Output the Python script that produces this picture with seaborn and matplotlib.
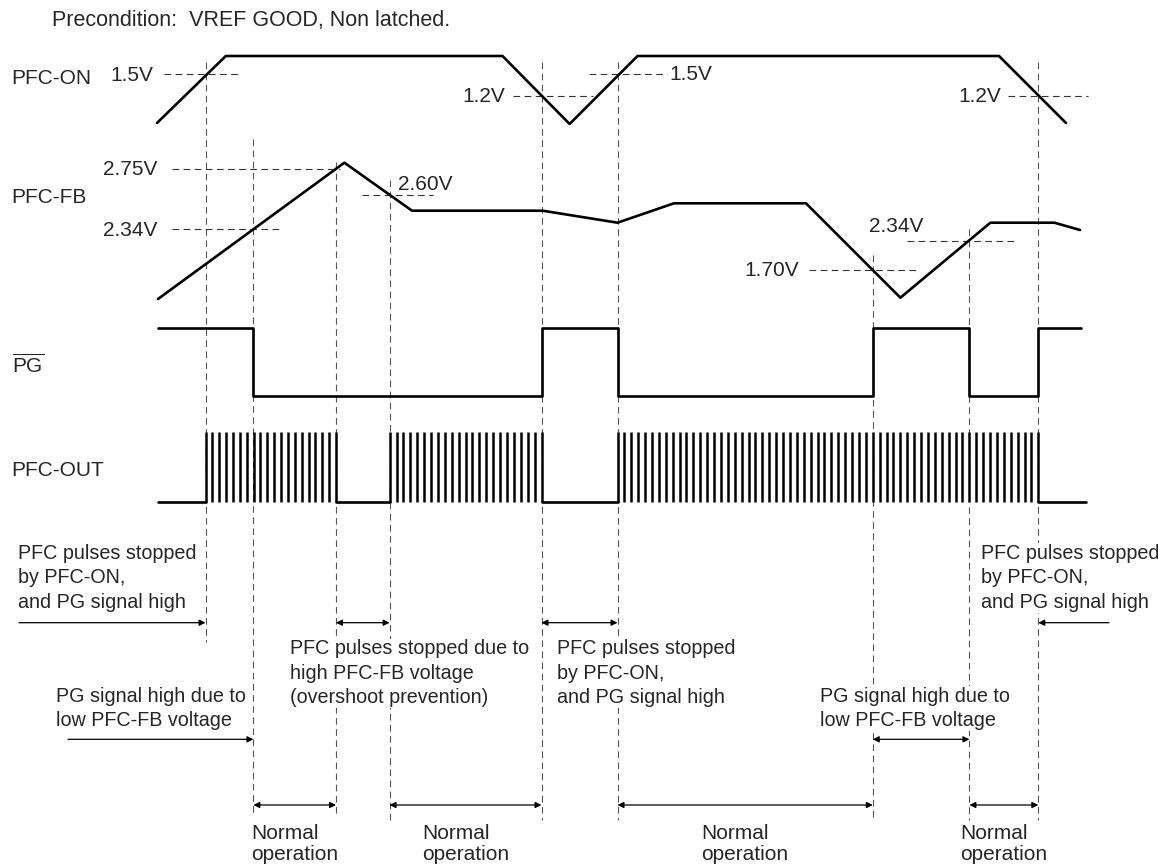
import numpy as np
import pandas as pd
import matplotlib
matplotlib.use('Agg')
import matplotlib.pyplot as plt
import seaborn as sns

# Timing diagram, drawn in a 1158 x 865 "pixel" coordinate frame (y grows downward)

# event instants (vertical dashed guides)
event_t = [205.5, 253.4, 336.0, 389.6, 541.5, 617.5, 872.8, 969.4, 1038.3]
event_top = [61.7, 139.3, 161.7, 180.0, 61.7, 61.7, 255.0, 229.3, 61.7]
event_bottom = [641.7, 815.0, 817.0, 820.0, 820.0, 820.0, 820.0, 820.0, 820.0]

# PFC-ON waveform
pfc_on_t = [157, 225.8, 502.5, 569.6, 637.5, 999, 1066]
pfc_on_y = [123, 56, 56, 124, 56, 56, 123]

# PFC-FB waveform
pfc_fb_t = [158, 344.4, 412, 542.7, 617.5, 674, 806, 900.4, 990.4, 1054.4, 1080]
pfc_fb_y = [299, 162.7, 210.7, 210.7, 222.7, 203.3, 203.3, 297.7, 222.7, 222.7, 230]

# /PG (step levels: 1 = high)
pg_t = [158, 253.4, 541.5, 617.5, 872.8, 969.4, 1038.3, 1080.5]
pg_level = [1, 0, 1, 0, 1, 0, 1, 1]
pg_high, pg_low = 327.7, 395.7

# PFC-OUT pulse bursts
burst_start = [205.5, 389.6, 617.5]
burst_end = [336.0, 541.5, 1038.3]
pulse_period = 6.85
out_off = [(158, 205.5), (336.0, 389.6), (541.5, 617.5), (1038.3, 1086)]
out_high, out_low = 432.3, 501.7

# threshold labels: (text, x, y, ha) and their dashed reference lines
thr_labels = [('1.5V', 153, 75.7, 'right'), ('1.2V', 505, 96.7, 'right'),
              ('1.5V', 669, 75, 'left'), ('1.2V', 1001, 96.7, 'right'),
              ('2.75V', 157, 169.3, 'right'), ('2.60V', 398, 184, 'left'),
              ('2.34V', 157, 230, 'right'), ('2.34V', 868.5, 226.7, 'left'),
              ('1.70V', 799.5, 270.7, 'right')]
thr_lines = [(164, 239, 74), (513, 593, 96), (589, 667, 74), (1008, 1088, 96),
             (172, 340, 168.7), (361.6, 432.5, 195), (172, 281, 229.3),
             (907, 1016, 241), (809, 918, 270)]

signal_names = ['PFC-ON', 'PFC-FB', r'$\overline{\mathrm{PG}}$', 'PFC-OUT']
signal_name_y = [79, 197.3, 365, 470]

sns.set_theme(style='white')
plt.rcParams['font.family'] = ['Liberation Sans', 'DejaVu Sans']
plt.rcParams['mathtext.fontset'] = 'custom'
plt.rcParams['mathtext.rm'] = 'Liberation Sans'

fig = plt.figure(figsize=(11.58, 8.65), dpi=100)
ax = fig.add_axes([0, 0, 1, 1])
ax.set_xlim(0, 1158)
ax.set_ylim(865, 0)
ax.axis('off')

wave_lw = 1.9
dash = (0, (6, 4))
guide_c = '#555555'

# dashed guides
for t, y0, y1 in zip(event_t, event_top, event_bottom):
    ax.plot([t, t], [y0, y1], color=guide_c, lw=0.8, ls=dash, zorder=1)
for x0, x1, y in thr_lines:
    ax.plot([x0, x1], [y, y], color='#333333', lw=0.8, ls=dash, zorder=1)

# waveforms
sns.lineplot(x=pfc_on_t, y=pfc_on_y, sort=False, estimator=None, color='black', lw=wave_lw, ax=ax, zorder=3)
sns.lineplot(x=pfc_fb_t, y=pfc_fb_y, sort=False, estimator=None, color='black', lw=wave_lw, ax=ax, zorder=3)
pg_y = [pg_low + lv * (pg_high - pg_low) for lv in pg_level]
sns.lineplot(x=pg_t, y=pg_y, sort=False, estimator=None, color='black', lw=wave_lw,
             drawstyle='steps-post', ax=ax, zorder=3)

for x0, x1 in out_off:
    sns.lineplot(x=[x0, x1], y=[out_low, out_low], sort=False, estimator=None, color='black', lw=wave_lw, ax=ax, zorder=3)
for s, e in zip(burst_start, burst_end):
    n = int(round((e - s) / pulse_period)) + 1
    ax.vlines(np.linspace(s, e, n), out_high, out_low, color='black', lw=1.8, zorder=3)

# labels
for name, y in zip(signal_names, signal_name_y):
    ax.text(11.5, y, name, fontsize=15, va='center', ha='left')
for txt, x, y, ha in thr_labels:
    ax.text(x, y, txt, fontsize=15, va='center', ha=ha)

ax.text(51.7, 20.7, 'Precondition:  VREF GOOD, Non latched.', fontsize=15.5, va='center', ha='left')

# annotations
note_kw = dict(fontsize=14.2, va='top', ha='left', linespacing=1.36,
               bbox=dict(facecolor='white', edgecolor='none', pad=0.5), zorder=4)
stopped = 'PFC pulses stopped\nby PFC-ON,\nand PG signal high'
low_fb = 'PG signal high due to\nlow PFC-FB voltage'
ax.text(18.4, 544, stopped, **note_kw)
ax.text(556.8, 639.5, stopped, **note_kw)
ax.text(980.9, 544, stopped, **note_kw)
ax.text(290, 639.5, 'PFC pulses stopped due to\nhigh PFC-FB voltage\n(overshoot prevention)', **note_kw)
ax.text(55.5, 686.5, low_fb, **note_kw)
ax.text(819.9, 686.5, low_fb, **note_kw)

arrow_kw = dict(color='black', lw=0.9, shrinkA=0, shrinkB=0, mutation_scale=9)
one_way = [(19, 205.5, 622.7), (68, 253.4, 739.3), (1108.9, 1038.3, 622.7)]
two_way = [(336.0, 389.6, 622.7), (541.5, 617.5, 622.7), (872.8, 969.4, 739.3)]
for x0, x1, y in one_way:
    ax.annotate('', xy=(x1, y), xytext=(x0, y), arrowprops=dict(arrowstyle='-|>', **arrow_kw))
for x0, x1, y in two_way:
    ax.annotate('', xy=(x1, y), xytext=(x0, y), arrowprops=dict(arrowstyle='<|-|>', **arrow_kw))

normal_spans = [(253.4, 336.0), (389.6, 541.5), (617.5, 872.8), (969.4, 1038.3)]
for x0, x1 in normal_spans:
    ax.annotate('', xy=(x1, 805), xytext=(x0, 805), arrowprops=dict(arrowstyle='<|-|>', **arrow_kw))
    ax.text((x0 + x1) / 2, 824, 'Normal\noperation', fontsize=15, va='top', ha='center',
            multialignment='left', linespacing=1.15)

fig.savefig('out.png', dpi=100, facecolor='white')
